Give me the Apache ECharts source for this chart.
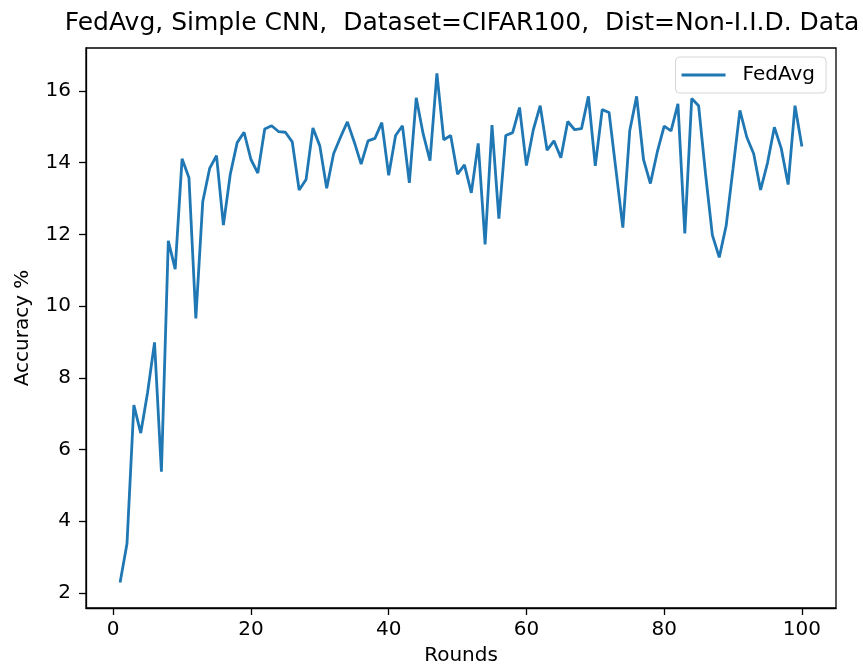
<!DOCTYPE html>
<html>
<head>
<meta charset="utf-8">
<script src="https://cdn.jsdelivr.net/npm/echarts@6/dist/echarts.min.js"></script>
<style>
html,body{margin:0;padding:0;background:#fff;}
#chart{width:863px;height:671px;}
</style>
</head>
<body>
<div id="chart"></div>
<script>
const rounds = [];
for (let i = 1; i <= 100; i++) rounds.push(i);
const fedAvg = [
  2.29, 3.37, 7.24, 6.46, 7.6, 8.99, 5.38, 11.82, 11.03, 14.11,
  13.58, 9.66, 12.91, 13.84, 14.20, 12.26, 13.68, 14.56, 14.85, 14.09,
  13.71, 14.94, 15.03, 14.87, 14.85, 14.58, 13.24, 13.53, 14.97, 14.47,
  13.29, 14.25, 14.71, 15.14, 14.58, 13.96, 14.61, 14.68, 15.12, 13.65,
  14.76, 15.03, 13.44, 15.81, 14.81, 14.06, 16.49, 14.64, 14.76, 13.68,
  13.94, 13.16, 14.54, 11.72, 15.05, 12.44, 14.76, 14.84, 15.54, 13.92,
  14.92, 15.59, 14.35, 14.61, 14.14, 15.15, 14.92, 14.95, 15.85, 13.91,
  15.48, 15.40, 13.8, 12.19, 14.89, 15.85, 14.09, 13.42, 14.3, 15.02,
  14.89, 15.64, 12.03, 15.79, 15.59, 13.7, 11.98, 11.36, 12.24, 13.84,
  15.46, 14.71, 14.25, 13.24, 13.99, 14.99, 14.40, 13.39, 15.59, 14.45
];
const xTicks = [0, 20, 40, 60, 80, 100];
const yTicks = [2, 4, 6, 8, 10, 12, 14, 16];

const font = 'DejaVu Sans';
const chart = echarts.init(document.getElementById('chart'), null, {renderer: 'canvas'});
chart.setOption({
  animation: false,
  backgroundColor: '#fff',
  title: {
    text: 'FedAvg, Simple CNN,  Dataset=CIFAR100,  Dist=Non-I.I.D. Data',
    left: 457,
    textAlign: 'center',
    top: 6,
    textStyle: {fontFamily: font, fontSize: 25, fontWeight: 'normal', color: '#000'}
  },
  legend: {
    right: 37,
    top: 57,
    data: ['FedAvg'],
    icon: 'rect',
    itemWidth: 44,
    itemHeight: 3,
    padding: [8, 11, 8, 6],
    borderColor: '#d6d6d6',
    borderWidth: 1,
    borderRadius: 4,
    backgroundColor: 'rgba(255,255,255,0.8)',
    textStyle: {fontFamily: font, fontSize: 20, color: '#000', padding: [0, 0, 0, 12]}
  },
  grid: {
    left: 86, right: 27, top: 48, bottom: 62,
    show: true, borderColor: '#000', borderWidth: 1.3, backgroundColor: 'transparent'
  },
  xAxis: {
    type: 'value',
    min: -3.95, max: 104.95,
    name: 'Rounds',
    nameLocation: 'middle',
    nameGap: 38,
    nameTextStyle: {fontFamily: font, fontSize: 20, color: '#000'},
    axisLine: {show: true, onZero: false, lineStyle: {color: '#000', width: 1.3}},
    axisTick: {show: true, length: 7, customValues: xTicks, lineStyle: {color: '#000', width: 1.3}},
    axisLabel: {customValues: xTicks, margin: 12, fontFamily: font, fontSize: 20, color: '#000'},
    splitLine: {show: false}
  },
  yAxis: {
    type: 'value',
    min: 1.58, max: 17.20,
    name: 'Accuracy %',
    nameLocation: 'middle',
    nameGap: 53,
    nameTextStyle: {fontFamily: font, fontSize: 20, color: '#000'},
    axisLine: {show: true, onZero: false, lineStyle: {color: '#000', width: 1.3}},
    axisTick: {show: true, length: 7, customValues: yTicks, lineStyle: {color: '#000', width: 1.3}},
    axisLabel: {customValues: yTicks, margin: 15, fontFamily: font, fontSize: 20, color: '#000'},
    splitLine: {show: false}
  },
  series: [{
    name: 'FedAvg',
    type: 'line',
    data: rounds.map((r, i) => [r, fedAvg[i]]),
    showSymbol: false,
    symbol: 'none',
    lineStyle: {color: '#1f77b4', width: 2.8},
    itemStyle: {color: '#1f77b4'},
    clip: true
  }]
});
</script>
</body>
</html>
